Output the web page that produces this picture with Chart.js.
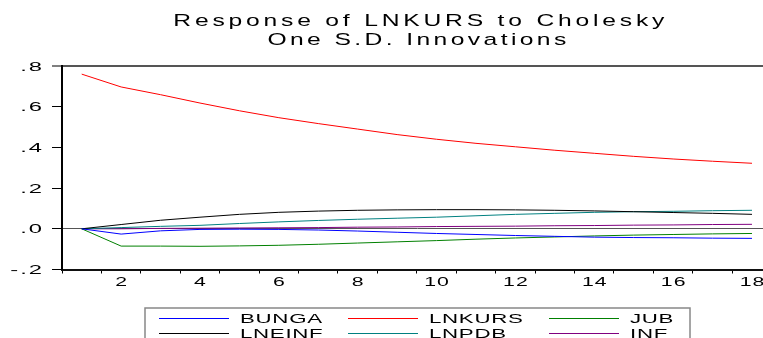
<!DOCTYPE html>
<html>
<head>
<meta charset="utf-8">
<script src="https://cdn.jsdelivr.net/npm/chart.js@4.4.1/dist/chart.umd.min.js"></script>
<style>
  html, body { margin: 0; padding: 0; overflow: hidden; background: #fff; width: 763px; height: 338px; }
  #wrap { position: absolute; left: 0; top: 0; width: 790px; height: 338px; }
</style>
</head>
<body>
<div id="wrap"><canvas id="c" width="790" height="338"></canvas></div>
<script>
// Impulse response horizon (periods)
const periods = [1, 2, 3, 4, 5, 6, 7, 8, 9, 10, 11, 12, 13, 14, 15, 16, 17, 18];
const xTickLabels = ['', '2', '', '4', '', '6', '', '8', '', '10', '', '12', '', '14', '', '16', '', '18'];
const yTickValues = [-0.2, 0, 0.2, 0.4, 0.6, 0.8];
const yTickLabels = ['-.2', '.0', '.2', '.4', '.6', '.8'];

// Response of LNKURS to a one S.D. shock in each variable
const bunga  = [0, -0.026, -0.010, -0.003, -0.002, -0.003, -0.006, -0.011, -0.017, -0.023, -0.028, -0.033, -0.037, -0.041, -0.043, -0.044, -0.046, -0.047];
const lnkurs = [0.760, 0.697, 0.659, 0.618, 0.580, 0.546, 0.517, 0.490, 0.463, 0.440, 0.420, 0.403, 0.386, 0.371, 0.356, 0.343, 0.332, 0.322];
const jub    = [0, -0.085, -0.085, -0.086, -0.084, -0.081, -0.076, -0.070, -0.064, -0.058, -0.051, -0.045, -0.040, -0.035, -0.031, -0.028, -0.025, -0.023];
const lneinf = [0, 0.021, 0.042, 0.057, 0.071, 0.081, 0.087, 0.091, 0.093, 0.094, 0.094, 0.093, 0.091, 0.088, 0.084, 0.080, 0.076, 0.071];
const lnpdb  = [0, 0.006, 0.012, 0.017, 0.026, 0.034, 0.041, 0.047, 0.052, 0.057, 0.064, 0.071, 0.076, 0.081, 0.084, 0.086, 0.089, 0.091];
const inf    = [0, 0.000, 0.002, 0.003, 0.004, 0.005, 0.006, 0.008, 0.009, 0.011, 0.012, 0.013, 0.015, 0.016, 0.018, 0.019, 0.021, 0.022];

const titleLines = ['Response of LNKURS to Cholesky', 'One S.D. Innovations'];

const series = [
  { label: 'BUNGA',  data: bunga,  color: '#0000ff' },
  { label: 'LNKURS', data: lnkurs, color: '#ff0000' },
  { label: 'JUB',    data: jub,    color: '#008000' },
  { label: 'LNEINF', data: lneinf, color: '#000000' },
  { label: 'LNPDB',  data: lnpdb,  color: '#008080' },
  { label: 'INF',    data: inf,    color: '#800080' }
];

const FONT = '"Liberation Sans", Arial, sans-serif';

// Draws text character by character with horizontal stretch and extra tracking
function drawSpaced(ctx, text, x, y, align, size, sx, gap) {
  ctx.save();
  ctx.font = size + 'px ' + FONT;
  ctx.fillStyle = '#000';
  ctx.textBaseline = 'alphabetic';
  ctx.textAlign = 'left';
  const chars = [...text];
  const ws = chars.map(ch => ctx.measureText(ch).width * sx);
  const total = ws.reduce((a, b) => a + b, 0) + gap * (chars.length - 1);
  let cx = align === 'center' ? x - total / 2 : align === 'right' ? x - total : x;
  chars.forEach((ch, i) => {
    ctx.save();
    ctx.translate(cx, y);
    ctx.scale(sx, 1);
    ctx.fillText(ch, 0, 0);
    ctx.restore();
    cx += ws[i] + gap;
  });
  ctx.restore();
}

const textPlugin = {
  id: 'textPlugin',
  afterDraw(chart) {
    const ctx = chart.ctx;
    const area = chart.chartArea;
    const xs = chart.scales.x, ys = chart.scales.y;
    const cx = (area.left + area.right) / 2;

    // title
    drawSpaced(ctx, titleLines[0], cx + 2, 26, 'center', 17, 1.45, 3.8);
    drawSpaced(ctx, titleLines[1], cx, 45, 'center', 17, 1.45, 3.4);

    // y tick labels
    ys.ticks.forEach((t, i) => {
      const py = ys.getPixelForValue(t.value);
      drawSpaced(ctx, yTickLabels[i], 42, py + 4.5, 'right', 12.5, 1.9, 2);
    });

    // x tick labels
    periods.forEach((p, i) => {
      if (!xTickLabels[i]) return;
      const px = xs.getPixelForValue(i);
      drawSpaced(ctx, xTickLabels[i], px, 286, 'center', 12.5, 1.7, 1);
    });

    // legend box
    ctx.save();
    ctx.strokeStyle = '#888';
    ctx.lineWidth = 1.5;
    ctx.strokeRect(145, 308, 545, 40);
    ctx.restore();

    const colX = [159, 348, 549];
    const rowY = [318, 333];
    series.forEach((s, i) => {
      const col = i % 3, row = Math.floor(i / 3);
      const lx = colX[col], ly = rowY[row];
      ctx.save();
      ctx.strokeStyle = s.color;
      ctx.lineWidth = 1;
      ctx.beginPath();
      ctx.moveTo(lx, ly + 0.5);
      ctx.lineTo(lx + 70, ly + 0.5);
      ctx.stroke();
      ctx.restore();
      drawSpaced(ctx, s.label, lx + 81, ly + 4.5, 'left', 13.5, 1.65, 0.7);
    });
  }
};

new Chart(document.getElementById('c'), {
  type: 'line',
  data: {
    labels: periods,
    datasets: series.map(s => ({
      label: s.label,
      data: s.data,
      borderColor: s.color,
      backgroundColor: s.color,
      borderWidth: 1,
      pointRadius: 0,
      tension: 0,
      fill: false
    }))
  },
  options: {
    responsive: false,
    animation: false,
    devicePixelRatio: 1,
    layout: { padding: { top: 66, left: 0, right: 18.3, bottom: 0 } },
    plugins: { legend: { display: false }, title: { display: false }, tooltip: { enabled: false } },
    scales: {
      x: {
        type: 'category',
        offset: true,
        grid: { offset: true, drawOnChartArea: false, tickLength: 4, tickColor: '#000', lineWidth: 1 },
        border: { color: '#111', width: 2 },
        ticks: { display: false, autoSkip: false },
        afterFit(s) { s.height = 68.5; }
      },
      y: {
        min: -0.2,
        max: 0.8,
        afterBuildTicks(s) { s.ticks = yTickValues.map(v => ({ value: v })); },
        grid: {
          drawOnChartArea: true,
          color: c => (c.tick && (Math.abs(c.tick.value) < 1e-9 || Math.abs(c.tick.value - 0.8) < 1e-9)) ? '#555' : 'rgba(0,0,0,0)',
          lineWidth: c => (c.tick && Math.abs(c.tick.value - 0.8) < 1e-9) ? 2 : 1,
          tickLength: 10,
          tickColor: '#000',
          tickWidth: 1
        },
        border: { color: '#000', width: 2 },
        ticks: { display: false },
        afterFit(s) { s.width = 62; }
      }
    }
  },
  plugins: [textPlugin]
});
</script>
</body>
</html>
